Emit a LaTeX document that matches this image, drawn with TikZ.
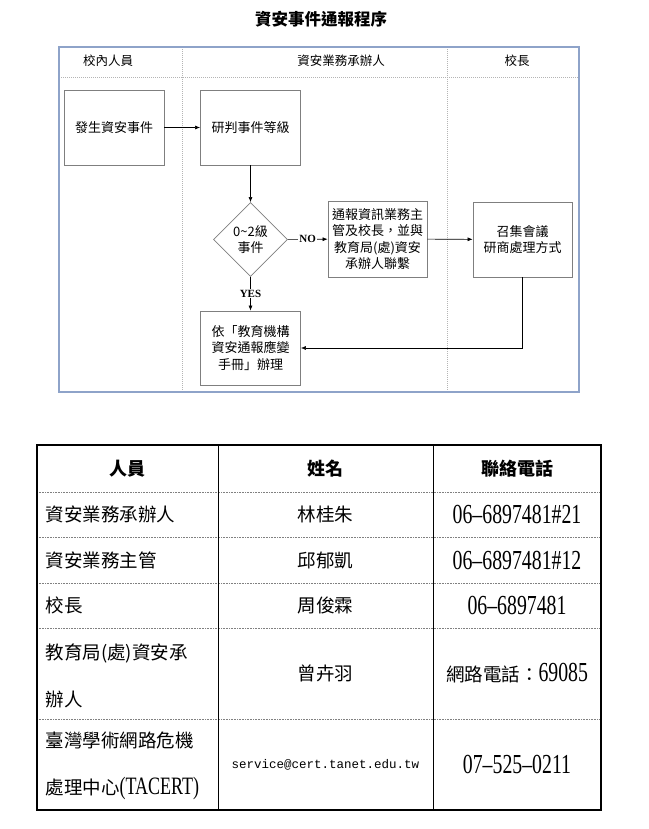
\documentclass[tikz,border=0pt]{standalone}
\usepackage{fontspec}
\setmainfont{Liberation Serif}
\newfontfamily\cjk{Noto Sans CJK TC}
\newfontfamily\numfont[FakeStretch=0.72]{Liberation Serif}
\newfontfamily\mailfont{Liberation Mono}
\usepackage{tikz}
\usetikzlibrary{arrows.meta, positioning, shapes.geometric}
\definecolor{FrameBlue}{HTML}{8EA3C9}
\definecolor{BoxGray}{HTML}{7F7F7F}
\definecolor{DotGray}{HTML}{B4B4B4}
\definecolor{RowGray}{HTML}{808080}
\tikzset{
  stepbox/.style={
    rectangle, draw=BoxGray, line width=0.8pt,
    minimum width=100pt, minimum height=75pt,
    align=center, inner sep=0pt,
    font=\cjk\fontsize{13}{16.5}\selectfont
  },
  decide/.style={
    diamond, draw=BoxGray, line width=0.8pt,
    minimum width=74pt, minimum height=74pt,
    align=center, inner sep=0pt,
    font=\cjk\fontsize{13}{16}\selectfont
  },
  lanehead/.style={font=\cjk\fontsize{12.5}{14}\selectfont},
  lbl/.style={fill=white, inner sep=1pt, font=\bfseries\fontsize{11}{13}\selectfont},
  arr/.style={-{Latex[length=5pt,width=4pt]}, line width=0.6pt},
  dotsep/.style={DotGray, line width=0.6pt, dash pattern=on 1pt off 1pt},
  rowsep/.style={RowGray, line width=1pt, dash pattern=on 1pt off 0.6pt},
  headcell/.style={font=\cjk\bfseries\fontsize{18}{22}\selectfont},
  cell/.style={font=\cjk\fontsize{18.5}{47}\selectfont, align=left},
  numcell/.style={font=\numfont\fontsize{27.5}{30}\selectfont},
}

\begin{document}
\begin{tikzpicture}[x=1pt, y=-1pt]
\useasboundingbox (0,0) rectangle (648,829);

% Title
\node[font=\cjk\bfseries\fontsize{16.5}{20}\selectfont] at (321,19) (title) {資安事件通報程序};

% Swim lanes
\draw[dotsep] (59,77) -- (579,77);
\draw[dotsep] (182,47) -- (182,392);
\draw[dotsep] (447,47) -- (447,392);
\draw[FrameBlue, line width=1.4pt] (59,47) rectangle (579,392);
\node[lanehead] at (108,61) (laneA) {校內人員};
\node[lanehead] at (341,61) (laneB) {資安業務承辦人};
\node[lanehead] at (517,61) (laneC) {校長};

% Flow steps
\node[stepbox] at (114,127.5) (occur) {發生資安事件};
\node[stepbox] at (250.5,127.5) (judge) {研判事件等級};
\node[decide] at (250.5,239.5) (level) {0\textasciitilde2級\\事件};
\node[stepbox, minimum width=99pt, minimum height=76pt] at (377.5,239) (report) {通報資訊業務主\\管及校長，並與\\教育局(處)資安\\承辦人聯繫};
\node[stepbox, minimum width=99pt] at (522.5,239.5) (meet) {召集會議\\研商處理方式};
\node[stepbox, minimum height=74pt] at (250.5,348) (manual) {依「教育機構\\資安通報應變\\手冊」辦理};

\draw[arr] (occur) -- (judge);
\draw[arr] (judge) -- (level);
\draw[arr] (level) -- node[lbl] {NO} (report);
\draw[arr] (report) -- (meet);
\draw[arr] (level) -- node[lbl] {YES} (manual);
\draw[arr] (meet.south) |- (manual.east);

% Contact table
\foreach \y in {492,537,583,628,719}
  \draw[rowsep] (37,\y) -- (601,\y);
\draw[line width=0.8pt] (218,445) -- (218,810);
\draw[line width=0.8pt] (433,445) -- (433,810);
\draw[line width=2pt] (37,445) rectangle (601,810);

\node[headcell] at (127.5,468.5) (hRole) {人員};
\node[headcell] at (325.5,468.5) (hName) {姓名};
\node[headcell] at (517,468.5) (hTel) {聯絡電話};

\node[cell, anchor=west] at (42,514.5) (r1role) {資安業務承辦人};
\node[cell] at (325.5,514.5) (r1name) {林桂朱};
\node[numcell] at (517,514.5) (r1tel) {06\textendash 6897481\#21};

\node[cell, anchor=west] at (42,560) (r2role) {資安業務主管};
\node[cell] at (325.5,560) (r2name) {邱郁凱};
\node[numcell] at (517,560) (r2tel) {06\textendash 6897481\#12};

\node[cell, anchor=west] at (42,605.5) (r3role) {校長};
\node[cell] at (325.5,605.5) (r3name) {周俊霖};
\node[numcell] at (517,605.5) (r3tel) {06\textendash 6897481};

\node[cell, anchor=west] at (42,676) (r4role) {教育局(處)資安承\\辦人};
\node[cell] at (325.5,673.5) (r4name) {曾卉羽};
\node[cell] at (517,673.5) (r4tel) {網路電話：{\numfont\fontsize{27.5}{30}\selectfont 69085}};

\node[cell, anchor=west] at (42,766) (r5role) {臺灣學術網路危機\\處理中心{\numfont\fontsize{25}{30}\selectfont (TACERT)}};
\node[font=\mailfont\fontsize{12.5}{15}\selectfont] at (325.5,764.5) (r5mail) {service@cert.tanet.edu.tw};
\node[numcell] at (517,764.5) (r5tel) {07\textendash 525\textendash 0211};

\end{tikzpicture}
\end{document}
